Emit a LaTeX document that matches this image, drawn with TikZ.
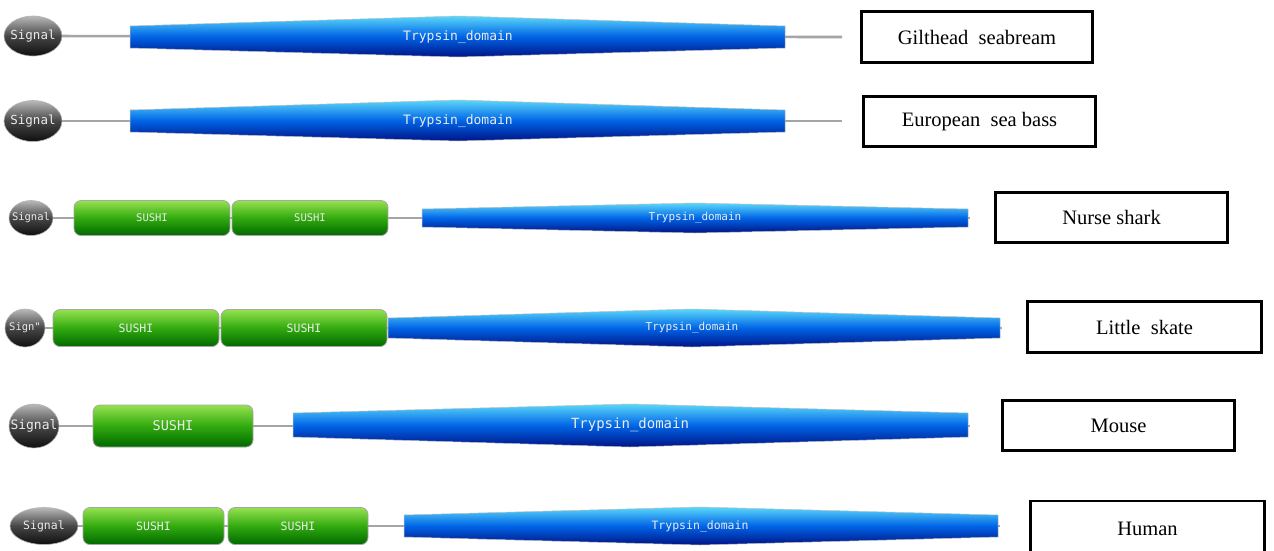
\documentclass[tikz,border=0pt]{standalone}
\usepackage{fontspec}
\setmainfont{Liberation Serif}
\newfontfamily\pfam{DejaVu Sans Mono}
\usetikzlibrary{shapes.geometric,backgrounds}
\definecolor{bbgray}{RGB}{165,165,165}
\definecolor{sigtop}{RGB}{185,185,185}
\definecolor{sigmid}{RGB}{70,70,70}
\definecolor{sigbot}{RGB}{15,15,15}
\definecolor{gtop}{RGB}{150,225,80}
\definecolor{gmid}{RGB}{50,170,15}
\definecolor{gbot}{RGB}{0,105,0}
\definecolor{btop}{RGB}{90,215,250}
\definecolor{bmid}{RGB}{0,100,230}
\definecolor{bbot}{RGB}{0,20,135}
\definecolor{txtw}{RGB}{235,235,235}
\tikzset{
  backbone/.style={draw=bbgray,line width=2.6pt},
  signal/.style={ellipse,inner sep=0pt,draw=gray!60,line width=0.6pt,
    top color=sigtop,bottom color=sigbot,middle color=sigmid,text=txtw},
  sushi/.style={rectangle,rounded corners=7pt,inner sep=0pt,draw=gray!70,line width=0.8pt,
    top color=gtop,bottom color=gbot,middle color=gmid,text=txtw},
  trypsin/.style={draw=gray!50,line width=0.5pt,top color=btop,bottom color=bbot,middle color=bmid},
  pfamtext/.style={text=txtw,inner sep=0pt},
  species/.style={draw=black,line width=2.8pt,rectangle,inner sep=0pt,font=\fontsize{20.5}{23}\selectfont}
}
% name, x1, x2, xc, ytop-left, ytop-centre, ybot-left, ybot-centre, font size
\newcommand\trypdom[9]{%
  \shade[trypsin] (#2,#5) -- (#4,#6) -- (#3,#5) -- (#3,#7) -- (#4,#8) -- (#2,#7) -- cycle;
  \node[pfamtext,font=\pfam\fontsize{#9}{#9}\selectfont] (#1) at (#4,{(#5+#7)/2}) {Trypsin\_domain};
}
\newcommand\zw[1]{\makebox[0pt]{#1}}
\begin{document}
\begin{tikzpicture}[x=1pt,y=-1pt]
\useasboundingbox (0,0) rectangle (1274,550);

% ---------- Row 1: Gilthead seabream ----------
\coordinate (end1) at (842,37);
\trypdom{t1}{130}{785}{458}{26}{16}{48}{57}{13}
\node[signal,minimum width=58pt,minimum height=40pt,font=\pfam\fontsize{12.5}{12.5}\selectfont] (sig1) at (33,36) {\zw{Signal}};
\node[species,minimum width=231pt,minimum height=51pt] (lab1) at (977,37) {Gilthead~~seabream};

% ---------- Row 2: European sea bass ----------
\coordinate (end2) at (842,121);
\trypdom{t2}{130}{785}{458}{110}{100}{132}{141}{13}
\node[signal,minimum width=58pt,minimum height=41pt,font=\pfam\fontsize{12.5}{12.5}\selectfont] (sig2) at (33,121) {\zw{Signal}};
\node[species,minimum width=232pt,minimum height=50pt] (lab2) at (979.5,121.5) {European~~sea bass};

% ---------- Row 3: Nurse shark ----------
\coordinate (end3) at (970,218);
\trypdom{t3}{422}{968}{695}{209}{203}{227}{233}{11}
\node[signal,minimum width=44pt,minimum height=35pt,font=\pfam\fontsize{10.5}{10.5}\selectfont] (sig3) at (31,218) {\zw{Signal}};
\node[sushi,minimum width=156pt,minimum height=35pt,font=\pfam\fontsize{10.5}{10.5}\selectfont] (s3a) at (152,218) {SUSHI};
\node[sushi,minimum width=156pt,minimum height=35pt,font=\pfam\fontsize{10.5}{10.5}\selectfont] (s3b) at (310,218) {SUSHI};
\node[species,minimum width=232pt,minimum height=50pt] (lab3) at (1111.5,217.5) {Nurse shark};

% ---------- Row 4: Little skate ----------
\coordinate (end4) at (1002,328);
\trypdom{t4}{388}{1000}{692}{318}{309}{338}{347}{11}
\node[signal,minimum width=40pt,minimum height=38pt,font=\pfam\fontsize{10.5}{10.5}\selectfont] (sig4) at (25,328) {\zw{Sign"}};
\node[sushi,minimum width=166pt,minimum height=37pt,font=\pfam\fontsize{11.5}{11.5}\selectfont] (s4a) at (136,328) {SUSHI};
\node[sushi,minimum width=166pt,minimum height=37pt,font=\pfam\fontsize{11.5}{11.5}\selectfont] (s4b) at (304,328) {SUSHI};
\node[species,minimum width=234pt,minimum height=51pt] (lab4) at (1144.5,327) {Little~~skate};

% ---------- Row 5: Mouse ----------
\coordinate (end5) at (970,426);
\trypdom{t5}{293}{968}{630}{413}{404}{437}{447}{14}
\node[signal,minimum width=50pt,minimum height=44pt,font=\pfam\fontsize{13}{13}\selectfont] (sig5) at (34,426) {\zw{Signal}};
\node[sushi,minimum width=160pt,minimum height=42pt,font=\pfam\fontsize{13.5}{13.5}\selectfont] (s5a) at (173,426) {SUSHI};
\node[species,minimum width=232pt,minimum height=50pt] (lab5) at (1118.5,425.5) {Mouse};

% ---------- Row 6: Human ----------
\coordinate (end6) at (1000,526);
\trypdom{t6}{404}{998}{700}{515}{507}{537}{545}{11.5}
\node[signal,minimum width=68pt,minimum height=37pt,font=\pfam\fontsize{11.5}{11.5}\selectfont] (sig6) at (44,526) {\zw{Signal}};
\node[sushi,minimum width=141pt,minimum height=37pt,font=\pfam\fontsize{11.5}{11.5}\selectfont] (s6a) at (153.5,526) {SUSHI};
\node[sushi,minimum width=140pt,minimum height=37pt,font=\pfam\fontsize{11.5}{11.5}\selectfont] (s6b) at (298,526) {SUSHI};
\node[species,minimum width=234pt,minimum height=56pt] (lab6) at (1147.5,529) {Human};

% ---------- backbones ----------
\begin{pgfonlayer}{background}
\fill[white] (0,0) rectangle (1274,550);
\foreach \i in {1,...,6} {\draw[backbone] (sig\i.center) -- (end\i);}
\end{pgfonlayer}
\end{tikzpicture}
\end{document}
